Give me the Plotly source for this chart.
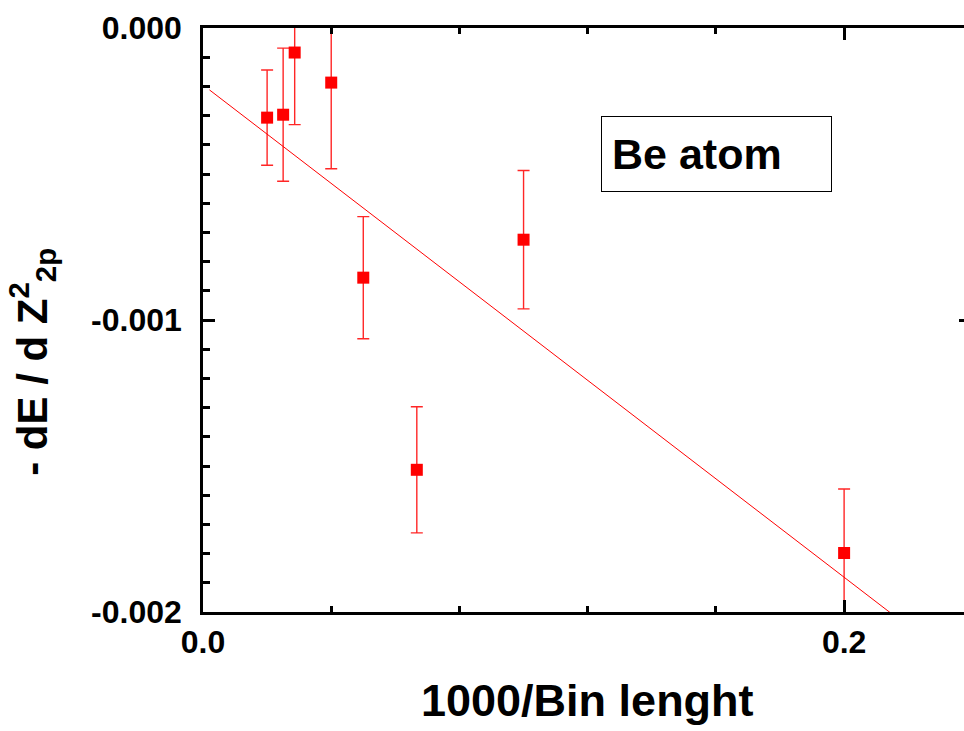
import plotly.graph_objects as go

# Data
x_vals = [0.02, 0.025, 0.0286, 0.04, 0.05, 0.0667, 0.1, 0.2]
y_vals = [-0.000307, -0.000297, -0.000084, -0.000187, -0.000855, -0.001513, -0.000725, -0.001798]
y_errs = [0.000163, 0.000228, 0.000247, 0.000295, 0.000209, 0.000216, 0.000237, 0.000219]

fit_intercept = -0.000195
fit_slope = -0.00843
fit_x = [0.002, 0.24]

x_tickvals = [0.0, 0.2]
x_ticktext = ["0.0", "0.2"]
y_tickvals = [0.0, -0.001, -0.002]
y_ticktext = ["0.000", "-0.001", "-0.002"]

FONT = "Liberation Sans, Arial, sans-serif"

fig = go.Figure()

fig.add_trace(go.Scatter(
    x=fit_x,
    y=[fit_intercept + fit_slope * v for v in fit_x],
    mode="lines",
    line=dict(color="red", width=1),
    showlegend=False,
    hoverinfo="skip",
))

fig.add_trace(go.Scatter(
    x=x_vals, y=y_vals,
    mode="markers",
    marker=dict(symbol="square", size=12, color="red"),
    error_y=dict(type="data", array=y_errs, visible=True,
                 color="rgba(255,0,0,0.85)", thickness=1.4, width=6),
    showlegend=False,
))

# invisible copy on the right-side tick axis
fig.add_trace(go.Scatter(x=x_vals, y=y_vals, yaxis="y2", mode="markers",
                         marker=dict(opacity=0), showlegend=False, hoverinfo="skip"))

fig.update_layout(
    width=964, height=731,
    margin=dict(l=203, r=0, t=28, b=119),
    paper_bgcolor="white",
    plot_bgcolor="white",
    font=dict(family=FONT, color="black"),
    xaxis=dict(
        range=[0, 0.2374], automargin=False,
        tickmode="array", tickvals=x_tickvals, ticktext=x_ticktext,
        ticks="inside", ticklen=12, tickwidth=2.5, tickcolor="black",
        minor=dict(dtick=0.04, tick0=0, ticks="inside", ticklen=6, tickwidth=2.5, tickcolor="black", showgrid=False),
        showline=True, linecolor="black", linewidth=2.5, mirror="ticks",
        showgrid=False, zeroline=False,
        tickfont=dict(size=32, weight="bold", family=FONT),
    ),
    yaxis=dict(
        range=[-0.002, 0], automargin=False,
        tickmode="array", tickvals=y_tickvals, ticktext=y_ticktext,
        ticks="inside", ticklen=12, tickwidth=2.5, tickcolor="black",
        minor=dict(dtick=0.0001, tick0=0, ticks="inside", ticklen=7, tickwidth=2.5, tickcolor="black", showgrid=False),
        showline=True, linecolor="black", linewidth=2.5, mirror=False,
        showgrid=False, zeroline=False,
        tickfont=dict(size=32, weight="bold", family=FONT),
        ticklabelstandoff=12,
    ),
    yaxis2=dict(
        overlaying="y", side="right", range=[-0.002, 0], automargin=False,
        tickmode="array", tickvals=[-0.001],
        ticks="inside", ticklen=5, tickwidth=2.5, tickcolor="black",
        showticklabels=False, showline=False, showgrid=False, zeroline=False,
    ),
    annotations=[
        dict(
            text="Be atom", xref="paper", yref="paper",
            x=0.523, y=0.850, xanchor="left", yanchor="top",
            showarrow=False, align="left", valign="middle",
            width=209, height=54, borderpad=10,
            bordercolor="black", borderwidth=1, bgcolor="white",
            font=dict(size=43, weight="bold", family=FONT, color="black"),
        ),
        dict(
            text="- dE / d Z<sup>2</sup><sub>2p</sub>", xref="paper", yref="paper",
            x=0, y=0.4284, xshift=-171, xanchor="center", yanchor="middle",
            textangle=-90, showarrow=False,
            font=dict(size=42, weight="bold", family=FONT, color="black"),
        ),
        dict(
            text="1000/Bin lenght", xref="paper", yref="paper",
            x=0.5, y=0, xshift=4, yshift=-61, xanchor="center", yanchor="top",
            showarrow=False,
            font=dict(size=45, weight="bold", family=FONT, color="black"),
        ),
    ],
)

fig.write_html(
    "out.html",
    config={"displayModeBar": False},
    post_script="document.body.style.margin='0';document.body.style.overflow='hidden';",
)
